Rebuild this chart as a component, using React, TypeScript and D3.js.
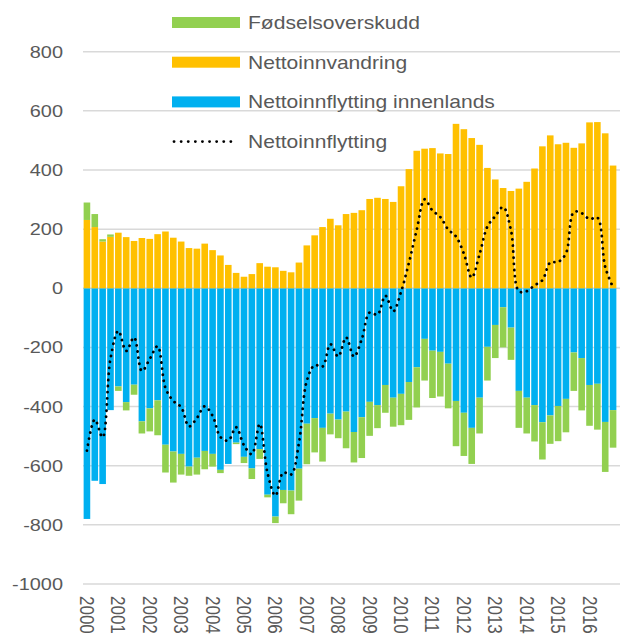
import React, { useRef, useEffect } from "react";
import * as d3 from "d3";

const years = [
  "2000", "2001", "2002", "2003", "2004", "2005", "2006", "2007", "2008",
  "2009", "2010", "2011", "2012", "2013", "2014", "2015", "2016",
];
const quarters = years.flatMap((y) => ["K1", "K2", "K3", "K4"].map((q) => `${y}${q}`));

// Fødselsoverskudd (per kvartal)
const fodsel = [
  59, 44, 8, 8, -15, -28, -34, -41, -78, -118, -94, -105, -70, -31, -57, -62,
  -43, -11, 0, -5, -21, -36, -33, -9, -22, -45, -80, -108, -137, -116, -114, -70,
  -63, -124, -103, -138, -115, -78, -94, -98, -106, -128, -136, -141, -160, -151, -151, -153,
  -146, -122, -121, -114, -112, -136, -109, -125, -121, -123, -126, -96, -119, -113, -130, -177,
  -138, -155, -169, -127,
];
// Nettoinnvandring
const innvandring = [
  231, 207, 158, 174, 188, 173, 160, 170, 167, 183, 192, 171, 158, 136, 134, 151,
  129, 111, 79, 52, 39, 48, 85, 73, 71, 59, 54, 87, 145, 179, 207, 235,
  213, 251, 255, 264, 302, 306, 302, 292, 345, 403, 465, 472, 474, 456, 454, 556,
  538, 508, 485, 407, 368, 339, 329, 337, 360, 405, 480, 517, 487, 492, 475, 490,
  561, 562, 524, 415,
];
// Nettoinnflytting innenlands
const innenlands = [
  -780, -651, -662, -412, -332, -385, -326, -450, -406, -379, -529, -552, -560, -603, -573, -550,
  -560, -614, -594, -522, -570, -609, -544, -698, -772, -682, -684, -610, -458, -439, -472, -424,
  -444, -417, -486, -436, -384, -395, -327, -370, -357, -317, -267, -171, -211, -215, -255, -381,
  -421, -472, -370, -198, -124, -64, -133, -347, -370, -395, -453, -430, -398, -374, -217, -236,
  -327, -323, -452, -412,
];

const yTicks = [-1000, -800, -600, -400, -200, 0, 200, 400, 600, 800];

const colors = {
  fodsel: "#92D050",
  innvandring: "#FFC000",
  innenlands: "#00B0F0",
};

const legendItems = [
  { label: "Fødselsoverskudd", key: "fodsel" },
  { label: "Nettoinnvandring", key: "innvandring" },
  { label: "Nettoinnflytting innenlands", key: "innenlands" },
  { label: "Nettoinnflytting", key: "line" },
];

const App = () => {
  const svgRef = useRef(null);

  useEffect(() => {
    const svg = d3.select(svgRef.current);
    svg.selectAll("*").remove();

    const width = 625;
    const height = 644;
    const left = 83;
    const right = 617;
    const top = 51.7;
    const bottom = 584;
    const textColor = "#595959";
    const font = "'Liberation Sans', Arial, sans-serif";
    const stretch = 1.17; // teksten i originalen er strukket vannrett

    svg.attr("width", width).attr("height", height);

    const rows = quarters.map((q, i) => ({
      q,
      fodsel: fodsel[i],
      innvandring: innvandring[i],
      innenlands: innenlands[i],
    }));

    const x = d3
      .scaleBand()
      .domain(quarters)
      .range([left, right])
      .paddingInner(0.16)
      .paddingOuter(0.08);

    const y = d3.scaleLinear().domain([-1000, 800]).range([bottom, top]);

    // rutenett
    svg
      .append("g")
      .selectAll("line")
      .data(yTicks)
      .enter()
      .append("line")
      .attr("x1", left)
      .attr("x2", 620)
      .attr("y1", (d) => y(d))
      .attr("y2", (d) => y(d))
      .attr("stroke", "#d9d9d9")
      .attr("stroke-width", 1.5);

    // stablede søyler
    const stack = d3
      .stack()
      .keys(["innenlands", "innvandring", "fodsel"])
      .offset(d3.stackOffsetDiverging);
    const series = stack(rows);

    svg
      .append("g")
      .selectAll("g")
      .data(series)
      .enter()
      .append("g")
      .attr("fill", (s) => colors[s.key])
      .selectAll("rect")
      .data((s) => s)
      .enter()
      .append("rect")
      .attr("x", (d) => x(d.data.q))
      .attr("width", x.bandwidth())
      .attr("y", (d) => y(Math.max(d[0], d[1])))
      .attr("height", (d) => Math.abs(y(d[0]) - y(d[1])));

    // Nettoinnflytting = innvandring + innenlands
    const line = d3
      .line()
      .x((d) => x(d.q) + x.bandwidth() / 2)
      .y((d) => y(d.innvandring + d.innenlands))
      .curve(d3.curveCatmullRom.alpha(0.5));

    svg
      .append("path")
      .datum(rows)
      .attr("fill", "none")
      .attr("stroke", "#000")
      .attr("stroke-width", 2.8)
      .attr("stroke-linecap", "round")
      .attr("stroke-dasharray", "0.1 6")
      .attr("d", line);

    // y-akse
    svg
      .append("g")
      .selectAll("text")
      .data(yTicks)
      .enter()
      .append("text")
      .attr("transform", (d) => `translate(63, ${y(d)}) scale(${stretch}, 1)`)
      .attr("dy", "0.35em")
      .attr("text-anchor", "end")
      .attr("fill", textColor)
      .style("font-family", font)
      .style("font-size", "17px")
      .text((d) => d);

    // x-akse
    svg
      .append("g")
      .selectAll("text")
      .data(years)
      .enter()
      .append("text")
      .attr(
        "transform",
        (d) =>
          `translate(${x(`${d}K1`) + x.bandwidth() / 2}, 596) scale(${stretch}, 1) rotate(90)`
      )
      .attr("dy", "0.35em")
      .attr("fill", textColor)
      .style("font-family", font)
      .style("font-size", "17px")
      .text((d) => d);

    // tegnforklaring
    const legend = svg.append("g");
    legendItems.forEach((item, i) => {
      const cy = 22.5 + i * 39.7;
      if (item.key === "line") {
        legend
          .append("line")
          .attr("x1", 174)
          .attr("x2", 237)
          .attr("y1", cy)
          .attr("y2", cy)
          .attr("stroke", "#000")
          .attr("stroke-width", 2.8)
          .attr("stroke-linecap", "round")
          .attr("stroke-dasharray", "0.1 7");
      } else {
        legend
          .append("rect")
          .attr("x", 172)
          .attr("y", cy - 5.5)
          .attr("width", 68)
          .attr("height", 11)
          .attr("fill", colors[item.key]);
      }
      legend
        .append("text")
        .attr("transform", `translate(248, ${cy}) scale(${stretch}, 1)`)
        .attr("dy", "0.35em")
        .attr("fill", textColor)
        .style("font-family", font)
        .style("font-size", "18px")
        .text(item.label);
    });
  }, []);

  return (
    <svg
      ref={svgRef}
      style={{ position: "absolute", left: 0, top: 0, display: "block" }}
    />
  );
};

export default App;
